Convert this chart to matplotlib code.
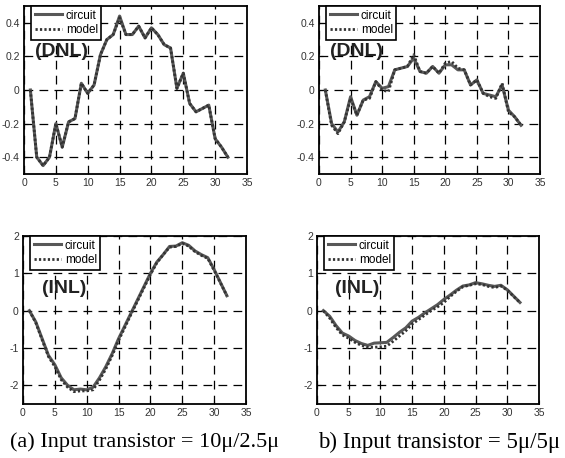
import numpy as np
import matplotlib.pyplot as plt

x = np.arange(1, 33)

dnl_a_circuit = [0, -0.40, -0.45, -0.40, -0.20, -0.34, -0.19, -0.17, 0.04, -0.02,
                 0.03, 0.21, 0.30, 0.33, 0.44, 0.33, 0.33, 0.38, 0.31, 0.37,
                 0.33, 0.27, 0.25, 0.01, 0.10, -0.08, -0.13, -0.11, -0.09, -0.29,
                 -0.34, -0.40]
dnl_a_model = [0, -0.40, -0.45, -0.40, -0.20, -0.34, -0.19, -0.17, 0.04, -0.02,
               0.03, 0.21, 0.30, 0.33, 0.43, 0.33, 0.33, 0.38, 0.31, 0.37,
               0.33, 0.27, 0.25, 0.01, 0.10, -0.08, -0.13, -0.11, -0.09, -0.29,
               -0.34, -0.40]

dnl_b_circuit = [0, -0.20, -0.25, -0.19, -0.04, -0.15, -0.06, -0.04, 0.05, 0.01,
                 0.02, 0.12, 0.13, 0.14, 0.19, 0.11, 0.10, 0.14, 0.10, 0.15,
                 0.15, 0.12, 0.12, 0.03, 0.06, -0.02, -0.03, -0.04, 0.03, -0.12,
                 -0.16, -0.21]
dnl_b_model = [0, -0.21, -0.26, -0.19, -0.05, -0.15, -0.06, -0.05, 0.05, 0.00,
               -0.01, 0.12, 0.13, 0.14, 0.21, 0.11, 0.10, 0.14, 0.10, 0.16,
               0.17, 0.13, 0.12, 0.03, 0.06, -0.02, -0.04, -0.05, 0.04, -0.13,
               -0.16, -0.21]

inl_a_circuit = [0, -0.30, -0.75, -1.20, -1.45, -1.80, -2.00, -2.12, -2.10, -2.12,
                 -2.05, -1.80, -1.50, -1.15, -0.75, -0.40, -0.05, 0.30, 0.65, 1.00,
                 1.30, 1.50, 1.72, 1.73, 1.82, 1.75, 1.60, 1.50, 1.42, 1.10,
                 0.75, 0.40]
inl_a_model = [0, -0.32, -0.78, -1.23, -1.50, -1.85, -2.05, -2.17, -2.15, -2.15,
               -2.12, -1.86, -1.56, -1.20, -0.80, -0.44, -0.08, 0.27, 0.62, 0.97,
               1.28, 1.50, 1.70, 1.72, 1.80, 1.73, 1.58, 1.48, 1.40, 1.08,
               0.74, 0.40]

inl_b_circuit = [0, -0.15, -0.40, -0.60, -0.68, -0.80, -0.88, -0.93, -0.87, -0.86,
                 -0.85, -0.72, -0.58, -0.46, -0.28, -0.18, -0.06, 0.05, 0.16, 0.30,
                 0.42, 0.55, 0.66, 0.69, 0.75, 0.72, 0.68, 0.65, 0.68, 0.56,
                 0.39, 0.22]
inl_b_model = [0, -0.20, -0.45, -0.65, -0.74, -0.85, -0.93, -0.98, -0.98, -0.97,
               -0.95, -0.82, -0.68, -0.54, -0.36, -0.24, -0.12, 0.00, 0.10, 0.22,
               0.38, 0.52, 0.64, 0.68, 0.72, 0.70, 0.65, 0.62, 0.66, 0.55,
               0.38, 0.22]

captions = ['(a) Input transistor = 10\u03bc/2.5\u03bc', 'b) Input transistor = 5\u03bc/5\u03bc']

W, H = 565, 458
fig = plt.figure(figsize=(W / 100, H / 100), dpi=100)
plt.rcParams['font.family'] = ['Liberation Sans', 'DejaVu Sans']


def px_axes(left, top, right, bottom):
    return fig.add_axes([left / W, 1 - bottom / H, (right - left) / W, (bottom - top) / H])


def draw(ax, circ, model, ylim, yticks, label, lab_pos):
    ax.plot(x, circ, color='#585858', lw=2.2, label='circuit')
    ax.plot(x, model, color='#333333', lw=2.0, ls=(0, (0.8, 0.8)), label='model')
    ax.set_xlim(0, 35)
    ax.set_ylim(*ylim)
    ax.set_xticks(range(0, 36, 5))
    ax.set_yticks(yticks)
    ax.set_yticklabels(['%g' % t for t in yticks])
    ax.grid(True, color='black', ls=(0, (7, 5)), lw=0.9)
    ax.tick_params(labelsize=7.5, length=3, direction='in', pad=3, labelcolor='#333333')
    for s in ax.spines.values():
        s.set_linewidth(1.3)
    w_px = ax.get_position().width * W
    leg = ax.legend(loc='upper left', bbox_to_anchor=(7 / w_px, 1), borderaxespad=0,
                    fontsize=8.5, frameon=True, fancybox=False,
                    borderpad=0.3, handlelength=2.3, handletextpad=0.35,
                    labelspacing=0.25)
    leg.get_frame().set_edgecolor('black')
    leg.get_frame().set_linewidth(1.2)
    leg.get_frame().set_alpha(1)
    ax.text(lab_pos[0], lab_pos[1], label, transform=ax.transAxes, fontsize=14,
            fontweight='bold', color='#222222', va='center')


ax1 = px_axes(24, 6, 247, 174)
draw(ax1, dnl_a_circuit, dnl_a_model, (-0.5, 0.5), [-0.4, -0.2, 0, 0.2, 0.4], '(DNL)', (0.05, 0.732))
ax2 = px_axes(319, 6, 540, 174)
draw(ax2, dnl_b_circuit, dnl_b_model, (-0.5, 0.5), [-0.4, -0.2, 0, 0.2, 0.4], '(DNL)', (0.05, 0.732))
ax3 = px_axes(23, 236, 246, 404)
draw(ax3, inl_a_circuit, inl_a_model, (-2.5, 2), [-2, -1, 0, 1, 2], '(INL)', (0.085, 0.685))
ax4 = px_axes(317, 236, 539, 404)
draw(ax4, inl_b_circuit, inl_b_model, (-2.5, 2), [-2, -1, 0, 1, 2], '(INL)', (0.081, 0.685))

fig.text(10 / W, 1 - 442 / H, captions[0], family='Liberation Serif', fontsize=16, va='center')
fig.text(318 / W, 1 - 442 / H, captions[1], family='Liberation Serif', fontsize=16.5, va='center')

fig.savefig('out.png', dpi=100)
